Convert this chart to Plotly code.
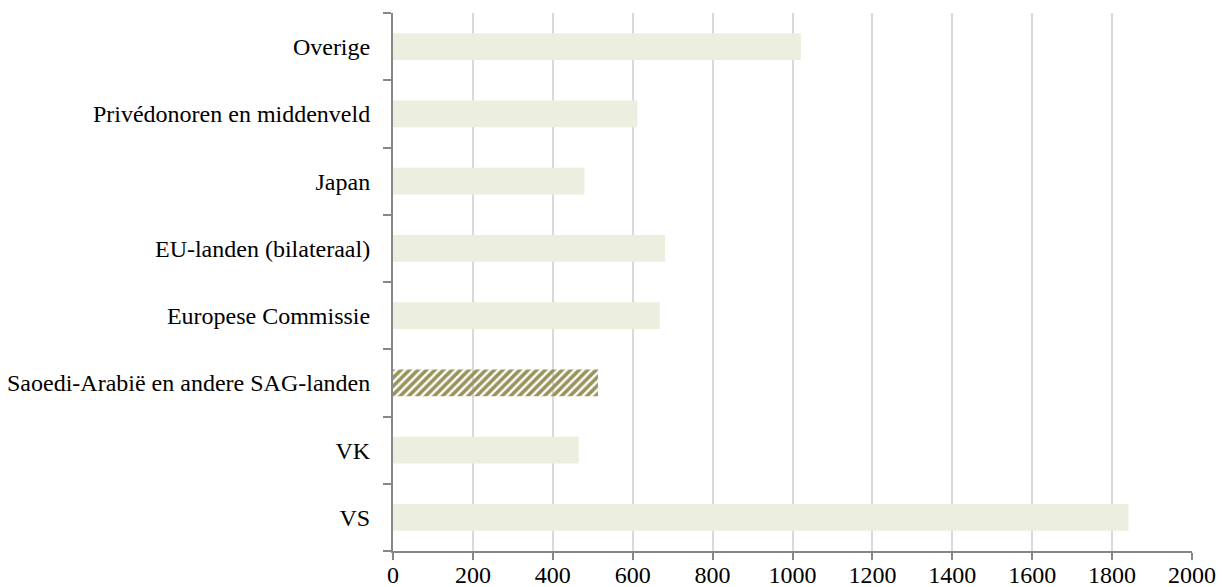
import plotly.graph_objects as go

categories = ["VS", "VK", "Saoedi-Arabië en andere SAG-landen", "Europese Commissie",
              "EU-landen (bilateraal)", "Japan", "Privédonoren en middenveld", "Overige"]
values = [1841, 465, 513, 668, 681, 479, 612, 1021]
highlight = "Saoedi-Arabië en andere SAG-landen"
x_ticks = [0, 200, 400, 600, 800, 1000, 1200, 1400, 1600, 1800, 2000]

base_color = "#ECEFDF"
hl_dark = "#9A935D"
hl_light = "#D3D0AA"

colors = [hl_dark if c == highlight else base_color for c in categories]
shapes = ["/" if c == highlight else "" for c in categories]

fig = go.Figure(go.Bar(
    y=categories, x=values, orientation="h",
    marker=dict(color=colors, line=dict(width=0),
                pattern=dict(shape=shapes, fgcolor=hl_dark, bgcolor=hl_light,
                             size=6, solidity=0.6, fillmode="replace")),
    hoverinfo="x+y",
))

font = dict(family="Liberation Serif, Times New Roman, serif", size=24, color="#000000")

fig.update_layout(
    width=1223, height=587,
    margin=dict(l=393, r=31, t=13, b=36, autoexpand=False),
    paper_bgcolor="white", plot_bgcolor="white",
    bargap=0.6, showlegend=False, font=font,
    xaxis=dict(range=[0, 2000], tickvals=x_ticks, ticktext=[str(v) for v in x_ticks],
               showgrid=True, gridcolor="#D9D9D9", gridwidth=1.5,
               showline=True, linecolor="#878787", linewidth=2,
               ticks="outside", ticklen=7, tickcolor="#878787", tickwidth=2,
               zeroline=False, tickfont=font, fixedrange=True, automargin=False,
               ticklabelstandoff=-6),
    yaxis=dict(type="category", categoryorder="array", categoryarray=categories,
               showgrid=False, showline=True, linecolor="#878787", linewidth=2,
               ticks="outside", ticklen=8, tickcolor="#878787", tickwidth=2,
               tickson="boundaries", tickfont=font, fixedrange=True,
               ticklabelstandoff=16, automargin=False),
)

fig.write_html("out.html", config={"displayModeBar": False},
               post_script="document.body.style.margin='0';")
